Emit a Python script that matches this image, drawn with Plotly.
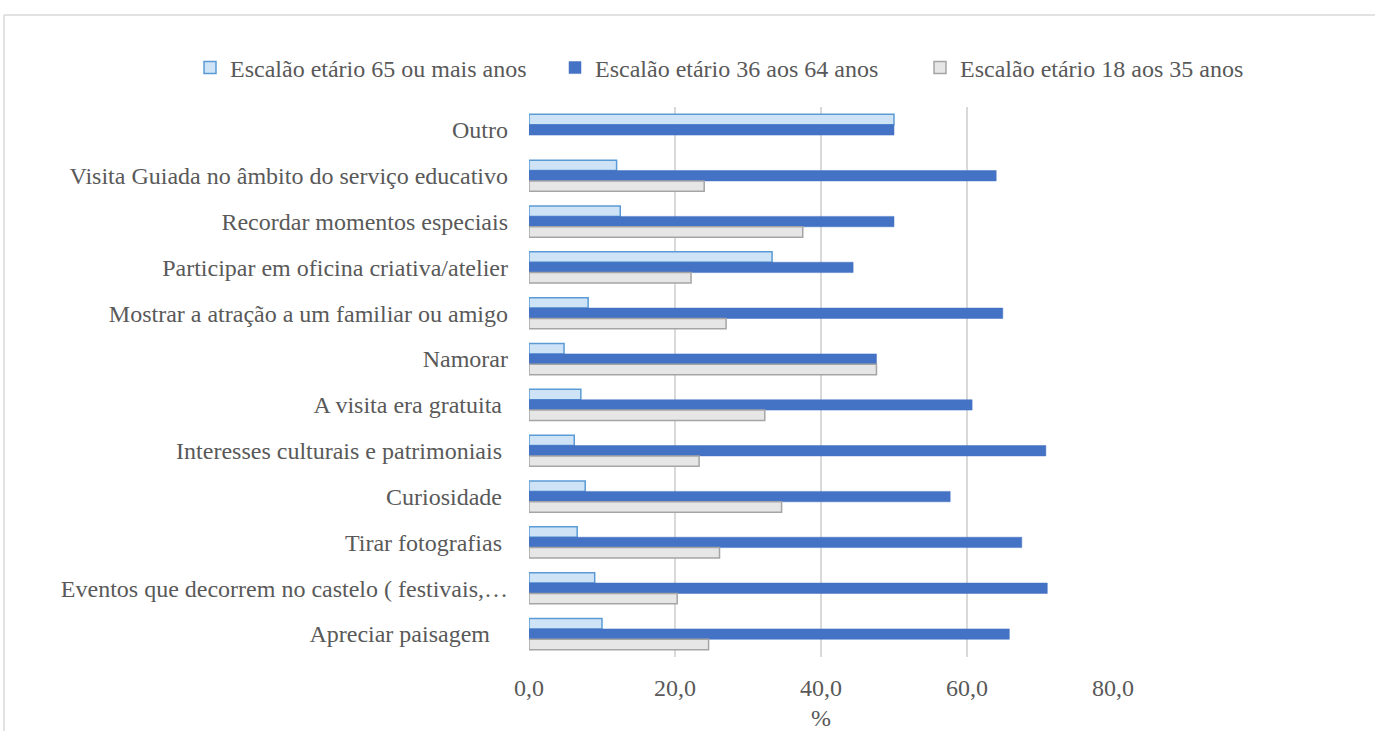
import plotly.graph_objects as go

# Motivações da visita por escalão etário (%)
categorias = [
    "Outro",
    "Visita Guiada no âmbito do serviço educativo",
    "Recordar momentos especiais",
    "Participar em oficina criativa/atelier",
    "Mostrar a atração a um familiar ou amigo",
    "Namorar",
    "A visita era gratuita\u00a0",
    "Interesses culturais e patrimoniais\u00a0",
    "Curiosidade\u00a0",
    "Tirar fotografias\u00a0",
    "Eventos que decorrem no castelo ( festivais,…",
    "Apreciar paisagem\u00a0\u00a0\u00a0",
]

series_nomes = [
    "Escalão etário 65 ou mais anos",
    "Escalão etário 36 aos 64 anos",
    "Escalão etário 18 aos 35 anos",
]

valores_65_mais = [50.0, 12.0, 12.5, 33.3, 8.1, 4.8, 7.1, 6.2, 7.7, 6.6, 9.0, 10.0]
valores_36_64 = [50.0, 64.0, 50.0, 44.4, 64.9, 47.6, 60.7, 70.8, 57.7, 67.5, 71.0, 65.8]
valores_18_35 = [None, 24.0, 37.5, 22.2, 27.0, 47.6, 32.3, 23.3, 34.6, 26.1, 20.3, 24.6]

ticks_x = [0, 20, 40, 60, 80]
ticks_x_texto = ["0,0", "20,0", "40,0", "60,0", "80,0"]

W, H = 1375, 731
M_L, M_R, M_T, M_B = 529, 262, 107, 74

cor_texto = "#595959"
fonte = "Liberation Serif, Times New Roman, serif"
tam = 24

estilos = [
    dict(color="#CFE3F7", line=dict(color="#5B9BD5", width=1.5)),
    dict(color="#4472C4", line=dict(color="#4472C4", width=0.5)),
    dict(color="#E6E6E6", line=dict(color="#A5A5A5", width=1.5)),
]

fig = go.Figure()
for nome, vals, est in zip(series_nomes, [valores_65_mais, valores_36_64, valores_18_35], estilos):
    fig.add_trace(go.Bar(
        y=categorias, x=vals, name=nome, orientation="h",
        marker=est,
    ))

# conversão de píxeis da página para coordenadas "paper"
pw = W - M_L - M_R
ph = H - M_T - M_B
def px_x(p):
    return (p - M_L) / pw
def px_y(p):
    return 1 - (p - M_T) / ph

# moldura exterior do gráfico (apenas topo e lado esquerdo visíveis)
fig.add_shape(type="line", xref="paper", yref="paper",
              x0=px_x(4), x1=px_x(W + 5), y0=px_y(15), y1=px_y(15),
              line=dict(color="#D9D9D9", width=1.5), layer="below")
fig.add_shape(type="line", xref="paper", yref="paper",
              x0=px_x(4), x1=px_x(4), y0=px_y(15), y1=px_y(H + 5),
              line=dict(color="#D9D9D9", width=1.5), layer="below")

fig.update_layout(
    width=W, height=H,
    margin=dict(l=M_L, r=M_R, t=M_T, b=M_B, autoexpand=False),
    plot_bgcolor="white", paper_bgcolor="white",
    barmode="group", bargap=0.32, bargroupgap=0,
    font=dict(family=fonte, size=tam, color=cor_texto),
    showlegend=True,
    legend=dict(
        orientation="h", xref="paper", yref="paper",
        x=px_x(190), xanchor="left", y=px_y(68), yanchor="middle",
        font=dict(family=fonte, size=tam, color=cor_texto),
        itemwidth=30, traceorder="normal",
        entrywidth=320, entrywidthmode="pixels",
    ),
    xaxis=dict(
        range=[0, 80], tickvals=ticks_x, ticktext=ticks_x_texto,
        showgrid=True, gridcolor="#D9D9D9", gridwidth=2,
        zeroline=False, showline=False, ticks="",
        ticklabelstandoff=14,
        title=dict(text="%", standoff=12, font=dict(size=tam, color=cor_texto)),
    ),
    yaxis=dict(
        autorange="reversed", showgrid=False, zeroline=False,
        showline=False, ticks="", ticklabelstandoff=20,
    ),
)

fig.write_html("out.html")
